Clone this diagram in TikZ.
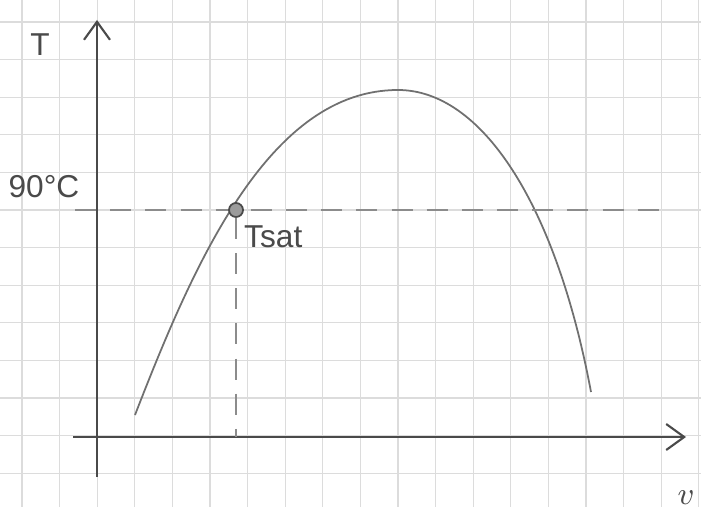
\documentclass[tikz,border=0pt]{standalone}
\usepackage{fontspec}
\setmainfont{Liberation Sans}
\usetikzlibrary{arrows.meta}
\definecolor{sketchink}{HTML}{4A4A4A}
\definecolor{sketchcurve}{HTML}{707070}
\definecolor{sketchgrid}{HTML}{DCDCDC}
\definecolor{sketchdash}{HTML}{8C8C8C}
\tikzset{
  gridline/.style={draw=sketchgrid, line width=0.35pt},
  axis/.style={draw=sketchink, line width=0.6pt,
    -{Straight Barb[length=1.8mm, width=2.6mm]}},
  curve/.style={draw=sketchcurve, line width=0.5pt},
  guide/.style={draw=sketchdash, line width=0.5pt, dash pattern=on 6pt off 4pt},
  satpoint/.style={circle, draw=sketchink, fill=sketchcurve!70, line width=0.5pt,
    inner sep=0pt, minimum size=1.4mm},
  lbl/.style={font=\fontsize{9}{11}\selectfont, text=sketchink, inner sep=1pt},
}

\begin{document}
\begin{tikzpicture}[x=0.01cm, y=-0.01cm]
\useasboundingbox (0,0) rectangle (701,507);
\fill[white] (0,0) rectangle (701,507);

% ---- squared paper ---------------------------------------------------
\foreach \gx in {0,...,18}
  \draw[gridline] (22+37.6*\gx,0) -- (22+37.6*\gx,507);
\foreach \gy in {0,...,12}
  \draw[gridline] (0,22+37.6*\gy) -- (701,22+37.6*\gy);

% ---- axes ------------------------------------------------------------
\coordinate (ybot) at (97,477);
\coordinate (ytop) at (97,20);
\coordinate (xleft) at (73,437);
\coordinate (xright) at (686,437);
\draw[axis] (ybot) -- (ytop);
\draw[axis] (xleft) -- (xright);
\node[lbl] (tlabel) at (40,45) {T};
\node[lbl, anchor=south] (vlabel) at (686,509) {$v$};

% ---- saturation dome ---------------------------------------------------
\coordinate (domestart) at (135,415);
\coordinate (domepeak) at (398,90);
\coordinate (domeend) at (591,392);
\draw[curve] (domestart) .. controls (195,260) and (270,90) .. (domepeak)
  .. controls (480,90) and (555,200) .. (domeend);

% ---- 90 C isotherm -----------------------------------------------------
\coordinate (isoleft) at (75,210);
\coordinate (isoright) at (670,210);
\coordinate (vfoot) at (236,437);
\draw[guide] (isoleft) -- (isoright);
\node[satpoint] (sat) at (236,210) {};
\draw[guide] (sat.south) -- (vfoot);
\node[lbl] (templabel) at (44,187) {90\textdegree C};
\node[lbl, anchor=west] (satlabel) at (240,237) {Tsat};

\end{tikzpicture}
\end{document}
